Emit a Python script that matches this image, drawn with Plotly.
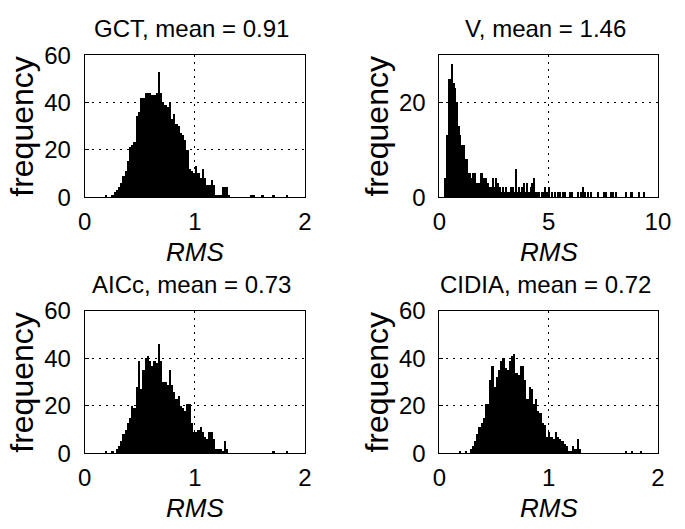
import plotly.graph_objects as go
import numpy as np

W, H = 685, 529

# ---- data (counts per bin) ----
main_bin_start = 0.0
main_bin_width = 0.02
v_bin_start = 0.27
v_bin_width = 0.075

gct_counts = [0, 0, 0, 0, 0, 0, 0, 0, 0, 1,
              0, 0, 1, 2, 3, 4, 6, 9, 11, 15,
              21, 22, 23, 34, 36, 42, 42, 44, 44, 44,
              43, 43, 44, 53, 44, 40, 39, 38, 40, 33,
              35, 31, 30, 27, 26, 24, 20, 12, 11, 10,
              13, 10, 8, 12, 8, 5, 5, 7, 5, 1,
              1, 1, 4, 4, 4, 1, 0, 0, 0, 0,
              0, 0, 0, 0, 0, 1, 1, 0, 0, 0,
              1, 0, 0, 0, 0, 1, 0, 0, 0, 0,
              0, 1, 0, 0, 0, 0, 0, 0, 0, 0]

v_counts = [4, 13, 25, 25, 28, 24, 23, 20, 15, 13,
            11, 11, 8, 8, 5, 5, 4, 5, 5, 3,
            3, 3, 5, 4, 4, 4, 3, 2, 2, 4,
            2, 4, 3, 2, 1, 2, 1, 2, 1, 1,
            2, 2, 1, 6, 1, 2, 1, 2, 3, 1,
            3, 1, 2, 3, 4, 1, 1, 1, 0, 1,
            1, 2, 1, 2, 0, 1, 0, 1, 0, 1,
            1, 0, 1, 1, 0, 0, 1, 1, 0, 0,
            0, 1, 0, 1, 2, 1, 0, 1, 0, 1,
            0, 0, 0, 1, 0, 0, 0, 1, 1, 0,
            0, 1, 1, 0, 1, 0, 0, 0, 0, 0,
            1, 0, 0, 1, 1, 0, 0, 0, 1, 0,
            0, 1]

aicc_counts = [0, 0, 0, 0, 0, 0, 0, 0, 0, 1,
               0, 0, 1, 0, 2, 3, 5, 8, 10, 13,
               15, 20, 19, 28, 39, 27, 35, 40, 41, 39,
               37, 39, 38, 46, 39, 30, 30, 29, 35, 29,
               26, 23, 24, 20, 19, 18, 21, 21, 13, 9,
               9, 10, 11, 9, 7, 6, 9, 9, 6, 2,
               2, 2, 1, 5, 2, 0, 0, 0, 0, 0,
               0, 0, 0, 0, 0, 0, 0, 0, 0, 0,
               0, 0, 0, 0, 0, 1, 0, 0, 0, 0,
               0, 1, 0, 0, 0, 0, 0, 0, 0, 0]

cidia_counts = [0, 0, 0, 0, 0, 0, 0, 0, 0, 1,
                0, 0, 1, 0, 2, 3, 5, 8, 11, 13,
                15, 21, 21, 31, 37, 28, 32, 35, 39, 40,
                36, 35, 39, 41, 42, 34, 33, 37, 37, 31,
                23, 28, 27, 21, 23, 18, 17, 13, 12, 7,
                9, 7, 6, 9, 7, 6, 5, 4, 3, 1,
                1, 3, 2, 6, 2, 0, 0, 0, 0, 0,
                0, 0, 0, 0, 0, 0, 0, 0, 0, 0,
                0, 0, 0, 0, 0, 1, 0, 0, 1, 0,
                0, 0, 1, 0, 0, 0, 0, 0, 0, 0]

titles = ["GCT, mean = 0.91", "V, mean = 1.46", "AICc, mean = 0.73", "CIDIA, mean = 0.72"]
x_ranges = [[0, 2], [0, 10], [0, 2], [0, 2]]
x_tickvals = [[0, 1, 2], [0, 5, 10], [0, 1, 2], [0, 1, 2]]
y_ranges = [[0, 60], [0, 30], [0, 60], [0, 60]]
y_tickvals = [[0, 20, 40, 60], [0, 20], [0, 20, 40, 60], [0, 20, 40, 60]]

series = [
    (gct_counts, main_bin_start, main_bin_width),
    (v_counts, v_bin_start, v_bin_width),
    (aicc_counts, main_bin_start, main_bin_width),
    (cidia_counts, main_bin_start, main_bin_width),
]

# panel boxes in pixels: (left, right, top, bottom)
boxes = [(80, 307, 43.5, 193), (445.5, 670.5, 43.5, 193),
         (80, 307, 313, 463), (445.5, 670.5, 313, 463)]

FONT = "Liberation Sans, Arial, sans-serif"
TICK_SIZE = 24
TITLE_SIZE = 24
LABEL_SIZE = 26
YLABEL_SIZE = 32

fig = go.Figure()
layout = dict(width=W, height=H, margin=dict(l=0, r=0, t=0, b=0),
              paper_bgcolor="white", plot_bgcolor="white",
              showlegend=False, bargap=0,
              font=dict(family=FONT, size=TICK_SIZE, color="black"))
annotations = []

for i, ((counts, start, bw), box) in enumerate(zip(series, boxes)):
    n = i + 1
    xa = "x" if n == 1 else f"x{n}"
    ya = "y" if n == 1 else f"y{n}"
    counts = np.array(counts)
    centers = start + bw * (np.arange(len(counts)) + 0.5)
    fig.add_trace(go.Bar(x=centers, y=counts, width=bw, xaxis=xa, yaxis=ya,
                         marker=dict(color="black", line=dict(width=0))))
    l, r, t, b = box
    axis_common = dict(showline=True, mirror=True, linecolor="black", linewidth=1,
                       ticks="inside", ticklen=4, tickcolor="black",
                       showgrid=True, gridcolor="black", gridwidth=1,
                       griddash="2px,5px", zeroline=False,
                       tickfont=dict(family=FONT, size=TICK_SIZE, color="black"))
    layout["xaxis" if n == 1 else f"xaxis{n}"] = dict(
        domain=[l / W, r / W], anchor=ya, range=x_ranges[i],
        tickvals=x_tickvals[i], ticklabelstandoff=3, **axis_common)
    layout["yaxis" if n == 1 else f"yaxis{n}"] = dict(
        domain=[1 - b / H, 1 - t / H], anchor=xa, range=y_ranges[i],
        tickvals=y_tickvals[i], ticklabelstandoff=8, **axis_common)
    cx = (l + r) / 2
    annotations.append(dict(text=titles[i], x=(cx - 3) / W, y=1 - (t - 28) / H,
                            xref="paper", yref="paper", showarrow=False,
                            xanchor="center", yanchor="middle",
                            font=dict(family=FONT, size=TITLE_SIZE, color="black")))
    annotations.append(dict(text="<i>RMS</i>", x=cx / W, y=1 - (b + 58) / H,
                            xref="paper", yref="paper", showarrow=False,
                            xanchor="center", yanchor="middle",
                            font=dict(family=FONT, size=LABEL_SIZE, color="black")))
    annotations.append(dict(text="frequency", x=(l - 64) / W, y=1 - ((t + b) / 2) / H,
                            xref="paper", yref="paper", showarrow=False,
                            textangle=-90, xanchor="center", yanchor="middle",
                            font=dict(family=FONT, size=YLABEL_SIZE, color="black")))

layout["annotations"] = annotations
fig.update_layout(**layout)
fig.write_html("out.html", config={"responsive": False, "displayModeBar": False},
               post_script="document.body.style.margin='0px';")
